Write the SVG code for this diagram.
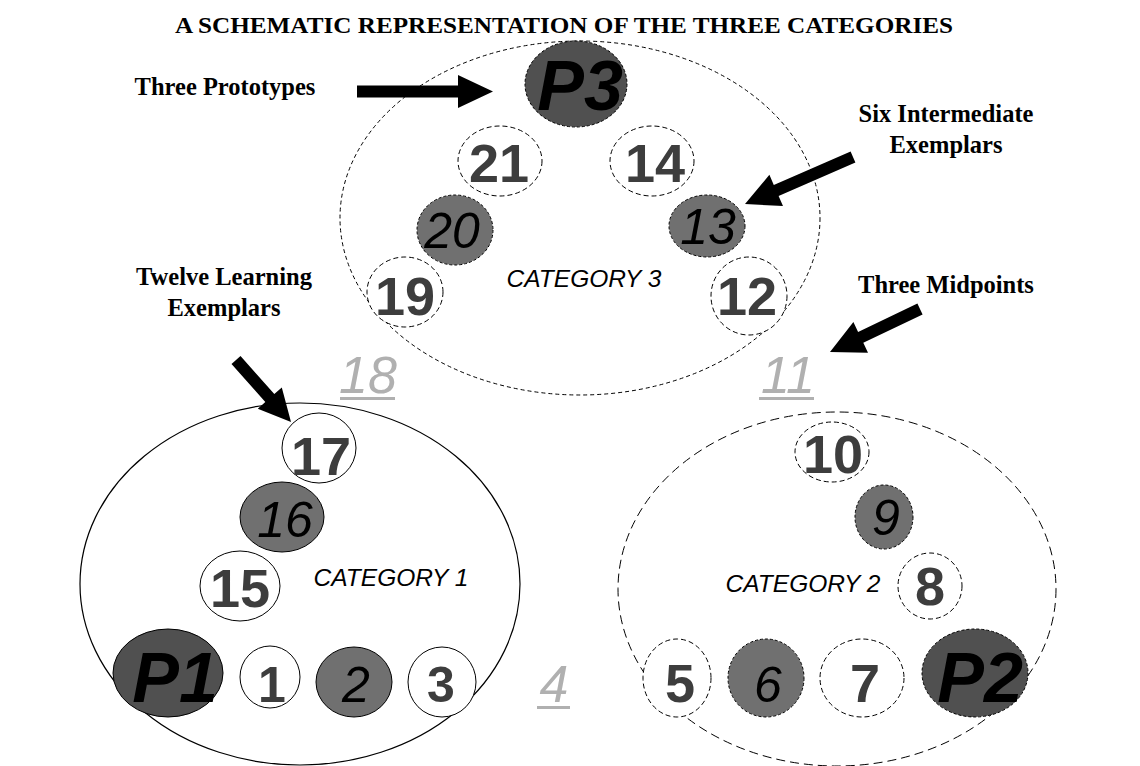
<svg xmlns="http://www.w3.org/2000/svg" width="1140" height="766" viewBox="0 0 1140 766">
<style>
.bg{fill:#ffffff}
.title{font-family:"Liberation Serif",serif;font-weight:bold;font-size:24px;fill:#000}
.lbl{font-family:"Liberation Serif",serif;font-weight:bold;font-size:24.5px;fill:#000;text-anchor:middle}
.cat{font-family:"Liberation Sans",Arial,sans-serif;font-style:italic;font-size:24.5px;fill:#000;text-anchor:middle}
.big3{fill:none;stroke:#000;stroke-width:1;stroke-dasharray:4 3}
.big2{fill:none;stroke:#000;stroke-width:1;stroke-dasharray:9 5}
.big1{fill:none;stroke:#000;stroke-width:1.2}
.ex{fill:#fff;stroke:#000;stroke-width:1}
.exd{fill:#fff;stroke:#000;stroke-width:1;stroke-dasharray:5 3}
.mid{fill:#707070;stroke:#000;stroke-width:1}
.midd{fill:#707070;stroke:#000;stroke-width:1;stroke-dasharray:3 2}
.pro{fill:#505050;stroke:#000;stroke-width:1}
.prod{fill:#505050;stroke:#000;stroke-width:1;stroke-dasharray:3 2}
.nb{font-family:"Liberation Sans",Arial,sans-serif;font-weight:bold;font-size:54px;fill:#3d3d3d;text-anchor:middle}
.nbs{font-family:"Liberation Sans",Arial,sans-serif;font-weight:bold;font-size:50px;fill:#3d3d3d;text-anchor:middle}
.ni{font-family:"Liberation Sans",Arial,sans-serif;font-style:italic;font-size:50px;fill:#000;text-anchor:middle}
.np{font-family:"Liberation Sans",Arial,sans-serif;font-style:italic;font-weight:bold;font-size:70px;fill:#000;text-anchor:middle}
.ng{font-family:"Liberation Sans",Arial,sans-serif;font-style:italic;font-size:52px;fill:#b0b0b0;text-anchor:middle}
.ul{fill:#b0b0b0}
.arr{fill:#000}
</style>
<rect class="bg" x="0" y="0" width="1140" height="766"/>
<text class="title" x="175" y="33" textLength="778" lengthAdjust="spacingAndGlyphs">A SCHEMATIC REPRESENTATION OF THE THREE CATEGORIES</text>

<g id="category3">
<ellipse class="big3" cx="580" cy="218" rx="240" ry="177"/>
<text class="cat" x="584" y="287">CATEGORY 3</text>
</g>
<g id="category1">
<ellipse class="big1" cx="300" cy="584" rx="220" ry="181"/>
<text class="cat" x="391" y="586">CATEGORY 1</text>
</g>
<g id="category2">
<ellipse class="big2" cx="837" cy="589" rx="219" ry="177"/>
<text class="cat" x="803" y="592">CATEGORY 2</text>
</g>

<g id="nP3"><ellipse class="prod" cx="576" cy="84" rx="51" ry="43"/><text class="np" x="580" y="110">P3</text></g>
<g id="n21"><ellipse class="exd" cx="500" cy="161" rx="42" ry="35"/><text class="nb" x="499" y="182">21</text></g>
<g id="n14"><ellipse class="exd" cx="652" cy="161" rx="42" ry="35"/><text class="nb" x="655" y="182">14</text></g>
<g id="n20"><ellipse class="midd" cx="455" cy="230" rx="38" ry="35"/><text class="ni" x="452" y="248">20</text></g>
<g id="n13"><ellipse class="midd" cx="707" cy="226" rx="38" ry="31"/><text class="ni" x="708" y="244">13</text></g>
<g id="n19"><ellipse class="exd" cx="405" cy="292" rx="38" ry="35"/><text class="nb" x="405" y="315">19</text></g>
<g id="n12"><ellipse class="exd" cx="749" cy="296" rx="38" ry="39"/><text class="nb" x="747" y="315">12</text></g>

<g id="n18"><text class="ng" x="368" y="393">18</text><rect class="ul" x="340" y="397" width="55" height="3"/></g>
<g id="n11"><text class="ng" x="788" y="393">11</text><rect class="ul" x="759" y="397" width="55" height="3"/></g>
<g id="n4"><text class="ng" x="554" y="702">4</text><rect class="ul" x="537" y="706" width="33" height="3"/></g>

<g id="n17"><ellipse class="ex" cx="319" cy="448" rx="37" ry="35"/><text class="nb" x="321" y="475">17</text></g>
<g id="n16"><ellipse class="mid" cx="282" cy="517" rx="42" ry="35"/><text class="ni" x="285" y="537">16</text></g>
<g id="n15"><ellipse class="ex" cx="240" cy="586" rx="40" ry="35"/><text class="nb" x="240" y="607">15</text></g>
<g id="nP1"><ellipse class="pro" cx="168" cy="673" rx="55" ry="44"/><text class="np" x="175" y="702">P1</text></g>
<g id="n1"><ellipse class="ex" cx="270" cy="677" rx="30" ry="31"/><text class="nbs" x="272" y="702">1</text></g>
<g id="n2"><ellipse class="mid" cx="354" cy="682" rx="38" ry="35"/><text class="ni" x="356" y="702">2</text></g>
<g id="n3"><ellipse class="ex" cx="442" cy="682" rx="34" ry="35"/><text class="nbs" x="441" y="702">3</text></g>

<g id="n10"><ellipse class="exd" cx="832" cy="452" rx="37" ry="30"/><text class="nb" x="833" y="473">10</text></g>
<g id="n9"><ellipse class="midd" cx="884" cy="517" rx="29" ry="32"/><text class="ni" x="886" y="535">9</text></g>
<g id="n8"><ellipse class="exd" cx="930" cy="586" rx="32" ry="33"/><text class="nb" x="930" y="605">8</text></g>
<g id="n5"><ellipse class="exd" cx="677" cy="678" rx="34" ry="39"/><text class="nb" x="680" y="702">5</text></g>
<g id="n6"><ellipse class="midd" cx="766" cy="678" rx="38" ry="39"/><text class="ni" x="768" y="702">6</text></g>
<g id="n7"><ellipse class="exd" cx="862" cy="678" rx="42" ry="39"/><text class="nb" x="865" y="702">7</text></g>
<g id="nP2"><ellipse class="prod" cx="975" cy="673" rx="53" ry="44"/><text class="np" x="980" y="702">P2</text></g>

<g id="labels">
<text class="lbl" x="225" y="95">Three Prototypes</text>
<text class="lbl" x="946" y="122">Six Intermediate</text>
<text class="lbl" x="946" y="153">Exemplars</text>
<text class="lbl" x="224" y="285">Twelve Learning</text>
<text class="lbl" x="224" y="316">Exemplars</text>
<text class="lbl" x="946" y="293">Three Midpoints</text>
</g>

<g id="connectors">
<polygon class="arr" points="357,85.5 458,85.5 458,75 493,91.5 458,108 458,97.5 357,97.5"/>
<polygon class="arr" points="850.6,151.5 773.8,184.9 769.4,174.8 745,204 783,206 778.6,195.9 855.4,162.5"/>
<polygon class="arr" points="231.5,364 265.3,402.1 257.8,408.7 291,422 281.8,387.5 274.3,394.1 240.5,356"/>
<polygon class="arr" points="917.4,303.6 858.1,331.9 853.4,322 830,352 868,352.7 863.3,342.7 922.6,314.4"/>
</g>
</svg>
